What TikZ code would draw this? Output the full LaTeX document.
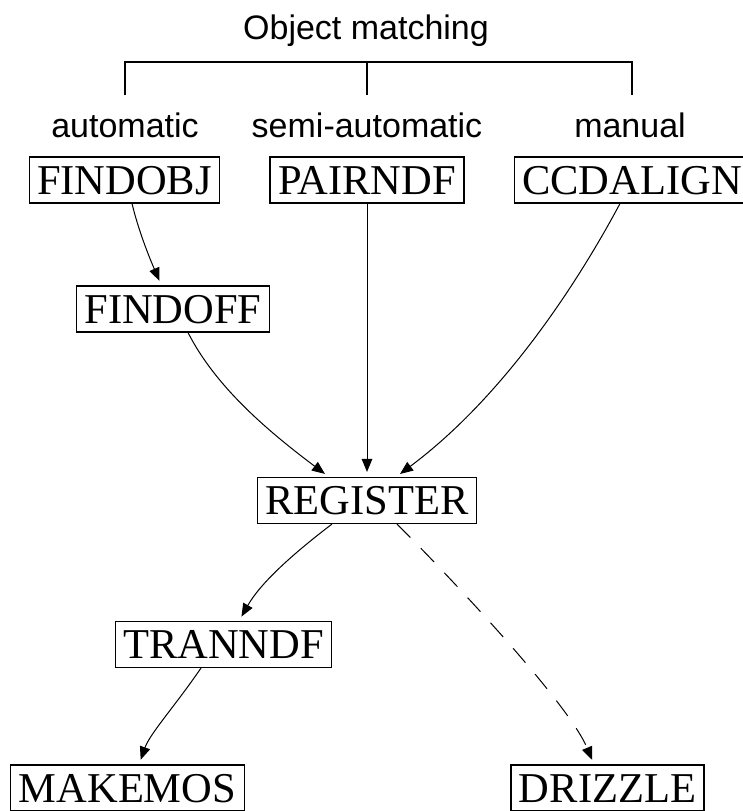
\documentclass[tikz,border=0pt]{standalone}
\usepackage{fontspec}
\setmainfont{Liberation Serif}
\newfontfamily\labelfont{Liberation Sans}
\usetikzlibrary{arrows.meta}

\begin{document}
\begin{tikzpicture}[x=1pt,y=-1pt,
  prog/.style={draw,line width=1.1pt,font=\fontsize{42.5}{42.5}\selectfont,
    text height=28pt,text depth=0pt,inner xsep=8pt,inner ysep=9pt},
  kind/.style={font=\labelfont\fontsize{34}{34}\selectfont,anchor=base,inner sep=0pt},
  flow/.style={line width=1pt,-{Triangle[length=13pt,width=10.5pt]},shorten >=5pt},
  optional/.style={flow,dash pattern=on 19pt off 15pt},
  brace/.style={line width=2pt}]
\useasboundingbox (0,0) rectangle (743,811);

% heading and the three-way bracket
\node[kind] (title) at (366,39) {Object matching};
\coordinate (bl) at (125,95);
\coordinate (bm) at (367,95);
\coordinate (br) at (632,95);
\coordinate (tl) at (125,62);
\coordinate (tm) at (367,62);
\coordinate (tr) at (632,62);
\draw[brace] (bl) -- (tl) -- (tr) -- (br);
\draw[brace] (tm) -- (bm);

\node[kind] (auto)   at (125,137) {automatic};
\node[kind] (semi)   at (367,137) {semi-automatic};
\node[kind] (manual) at (630,137) {manual};

% task boxes
\node[prog] (findobj)  at (124.5,180) {FINDOBJ};
\node[prog] (pairndf)  at (367,180)   {PAIRNDF};
\node[prog] (ccdalign) at (632,180)   {CCDALIGN};
\node[prog] (findoff)  at (173,309)   {FINDOFF};
\node[prog] (register) at (367,500.5) {REGISTER};
\node[prog] (tranndf)  at (223.5,644.5) {TRANNDF};
\node[prog] (makemos)  at (127.5,788) {MAKEMOS};
\node[prog] (drizzle)  at (607.5,788) {DRIZZLE};

% data flow
\draw[flow] ([xshift=7.5pt]findobj.south) .. controls +(6,25) and +(-13.5,-31) .. ([xshift=-11.5pt]findoff.north);
\draw[flow] ([xshift=15pt]findoff.south) .. controls +(27,53) and +(-64,-48) .. ([xshift=-38pt]register.north);
\draw[flow] (pairndf.south) -- (register.north);
\draw[flow] ([xshift=-12pt]ccdalign.south) .. controls +(-40,75) and +(110,-82) .. ([xshift=29pt]register.north);
\draw[flow] ([xshift=-35pt]register.south) .. controls +(-42,32) and +(21,-37) .. ([xshift=15.5pt]tranndf.north);
\draw[optional] ([xshift=30pt]register.south) .. controls +(60,60) and +(-25,-60) .. ([xshift=-13.5pt]drizzle.north);
\draw[flow] ([xshift=-22.5pt]tranndf.south) .. controls +(-26,38) and +(11,-31) .. ([xshift=11.5pt]makemos.north);
\end{tikzpicture}
\end{document}
